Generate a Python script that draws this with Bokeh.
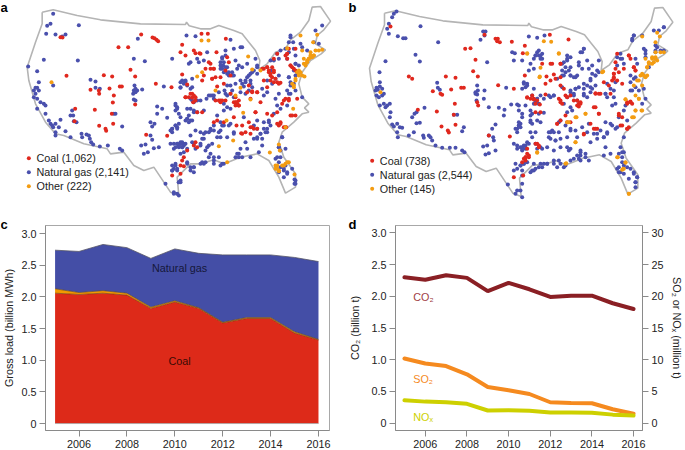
from bokeh.plotting import figure
from bokeh.layouts import column, row
from bokeh.models import Range1d, LinearAxis, FixedTicker, Label
from bokeh.embed import file_html
from bokeh.resources import INLINE
from bokeh.core.properties import value

FONT = "Liberation Sans"
COAL = "#e0281e"; GAS = "#4a50ad"; OTHER = "#f39c12"

border = [(125,35),(158,28),(230,45),(300,58),(420,70),(555,72),(558,65),(566,76),(600,85),(630,85),(655,75),(700,90),(725,100),(745,125),(765,150),(778,180),(775,207),(800,190),(825,155),(855,145),(870,118),(900,95),(925,60),(935,20),(960,18),(990,62),(970,88),(950,105),(945,130),(975,148),(962,160),(930,180),(905,215),(895,250),(905,290),(925,310),(912,322),(925,335),(905,340),(880,365),(845,395),(835,425),(850,470),(885,520),(885,560),(855,578),(835,530),(805,480),(770,460),(720,470),(690,482),(670,490),(640,478),(600,490),(570,490),(530,530),(535,585),(510,575),(490,545),(460,500),(430,510),(400,495),(370,455),(330,460),(320,445),(250,430),(190,405),(165,400),(135,365),(105,310),(85,240),(80,200),(105,125),(125,70),(125,35)]

a_coal = [(180,110),(186,111),(198,226),(224,325),(222,362),(270,268),(295,270),(296,280),(310,224),(335,228),(327,264),(358,258),(364,258),(283,328),(340,285),(337,306),(334,340),(338,370),(296,376),(315,385),(317,391),(354,140),(383,140),(390,208),(404,228),(404,312),(422,102),(456,111),(462,113),(468,118),(473,122),(466,250),(513,260),(437,403),(500,406),(545,133),(540,155),(545,222),(555,290),(570,280),(575,292),(585,300),(578,305),(580,150),(603,100),(622,100),(676,115),(600,160),(585,158),(597,158),(555,165),(630,190),(625,185),(640,205),(615,205),(610,225),(605,240),(635,235),(660,230),(645,300),(660,300),(650,258),(670,250),(680,170),(685,185),(648,155),(675,210),(690,225),(560,252),(605,335),(590,335),(690,280),(705,290),(708,305),(715,315),(700,305),(755,272),(770,275),(745,255),(750,295),(765,335),(708,375),(725,375),(745,365),(755,380),(770,385),(735,395),(722,398),(670,365),(650,360),(640,365),(700,350),(815,345),(830,335),(845,310),(855,295),(865,300),(890,295),(870,345),(885,345),(840,365),(850,380),(857,380),(835,375),(800,340),(790,205),(800,200),(805,215),(810,225),(820,215),(825,235),(835,250),(820,210),(830,160),(820,175),(855,165),(860,160),(885,145),(865,145),(870,195),(880,205),(790,240),(800,260),(780,305),(550,470),(560,450),(545,480),(540,495),(550,497),(515,525),(540,520),(585,425),(590,440),(580,435)]
a_coal_east = [(295,135),(300,145),(305,155),(310,170),(320,170),(330,172),(300,165),(275,130),(290,125),(305,125),(360,120),(365,125),(375,135),(350,85),(350,100),(65,205),(75,215),(70,210),(55,215),(45,215),(125,160),(135,155),(130,130),(120,130),(145,225),(150,230),(155,225),(165,225),(195,230),(200,235),(205,240),(195,240),(205,225),(245,200),(260,200),(255,260),(340,225),(355,220),(365,270),(320,295),(330,295),(345,305),(240,305),(250,310),(215,325),(240,325),(230,200)]

a_gas = [(158,40),(150,70),(140,76),(137,100),(165,102),(185,108),(195,102),(235,74),(130,178),(232,180),(110,212),(83,198),(115,245),(105,262),(110,262),(115,270),(100,270),(105,280),(100,290),(110,295),(120,305),(130,310),(135,315),(110,325),(135,340),(145,360),(150,370),(155,375),(165,370),(180,358),(165,395),(165,405),(158,380),(175,380),(195,392),(210,410),(243,400),(245,410),(258,402),(265,405),(268,415),(272,425),(278,432),(298,438),(322,435),(358,445),(365,450),(158,255),(270,238),(285,243),(285,262),(298,265),(215,330),(210,345),(218,345),(220,362),(228,365),(340,340),(345,340),(365,378),(400,175),(433,182),(412,115),(402,255),(425,267),(400,270),(405,275),(398,280),(410,270),(405,265),(400,297),(405,300),(490,258),(470,318),(485,325),(470,340),(500,352),(525,310),(530,320),(525,330),(540,350),(450,365),(462,370),(455,378),(450,405),(455,418),(435,432),(422,435),(430,460),(442,455),(460,443),(475,440),(515,175),(558,105),(585,107),(720,140),(690,118),(545,240),(555,243),(540,262),(560,255),(575,260),(575,235),(565,190),(570,185),(590,175),(595,185),(620,155),(610,180),(665,170),(660,185),(668,195),(660,205),(675,150),(680,200),(685,215),(695,225),(705,180),(715,195),(700,145),(725,140),(740,190),(765,175),(770,195),(755,215),(745,225),(735,245),(720,240),(750,240),(730,258),(705,250),(690,255),(672,270),(680,285),(655,275),(625,285),(635,285),(618,295),(640,295),(670,310),(680,320),(690,325),(670,330),(650,345),(580,330),(570,325),(565,345),(560,355),(570,360),(575,360),(535,370),(525,375),(530,380),(510,390),(515,385),(585,390),(600,395),(630,385),(625,395),(610,400),(660,390),(650,410),(680,410),(700,395),(610,415),(600,430),(620,440),(630,460),(640,470),(655,470),(665,490),(610,490),(600,490),(640,490),(580,500),(570,510),(580,515),(560,490),(525,490),(520,505),(530,510),(515,510),(535,545),(540,545),(495,550),(520,575),(535,585),(540,430),(545,425),(550,430),(530,430),(535,440),(545,440),(555,430),(510,430),(520,445),(540,460),(550,455),(575,425),(585,445),(715,470),(710,460),(720,445),(740,445),(750,470),(775,455),(785,435),(760,415),(770,410),(800,395),(790,385),(780,400),(810,375),(805,360),(790,365),(730,350),(770,360),(690,370),(665,375),(640,390),(830,315),(820,340),(840,325),(860,315),(870,280),(835,280),(825,295),(800,275),(785,265),(790,285),(800,240),(770,220),(810,180),(835,175),(860,175),(885,165),(885,190),(878,125),(870,105),(900,130),(905,140),(945,90),(965,75),(940,125),(955,130),(920,150),(880,210),(865,230),(870,255),(880,250),(885,270),(905,290),(845,410),(835,440),(825,475),(835,485),(840,500),(850,510),(850,530),(860,515),(885,540),(885,550),(875,505),(835,515),(600,300),(610,330),(560,325)]
a_gas_east = [(155,100),(160,110),(150,120),(165,125),(155,130),(160,140),(165,90),(175,150),(190,150),(170,145),(185,140),(200,130),(215,125),(230,155),(240,145),(250,135),(260,125),(225,165),(215,175),(240,175),(245,185),(235,195),(225,205),(210,200),(185,195),(170,180),(180,205),(190,215),(165,205),(130,210),(120,210),(30,170),(40,175),(30,185),(45,165),(60,190),(60,220),(65,225),(70,230),(80,225),(15,240),(20,250),(25,265),(50,280),(55,290),(45,285),(70,260),(80,260),(15,300),(20,310),(5,310),(5,320),(60,330),(95,340),(105,320),(120,315),(130,300),(145,320),(150,335),(125,355),(115,360),(105,375),(90,360),(30,350),(35,355),(25,360),(40,360),(20,355),(15,365),(35,365),(10,355),(50,370),(70,355),(150,290),(160,300),(175,300),(190,325),(225,350),(205,385),(195,395),(215,395),(250,300),(260,310),(270,325),(285,320),(295,290),(290,310),(275,340),(260,340),(345,70),(355,80),(370,70),(355,50),(360,35),(375,115),(385,120),(380,140),(375,150),(355,155),(360,170),(350,195),(355,205),(310,105),(320,85),(330,75),(315,160),(325,150),(305,175),(300,135),(5,420),(15,420),(20,430),(5,435),(50,410),(60,425),(70,425),(95,410),(105,410),(150,420),(160,415),(130,405),(115,395),(330,395),(320,395),(345,420),(340,430),(350,445),(372,462),(372,475),(325,365),(330,375),(335,335),(30,465),(25,470),(10,505),(20,505),(345,370)]

a_other = [(153,245),(603,120),(624,120),(743,168),(590,228),(605,215),(645,270),(780,210),(755,207),(720,262),(705,285),(750,297),(678,360),(728,337),(698,420),(655,437),(808,456),(835,432),(838,450),(680,485),(900,105),(950,103),(938,125),(905,150),(860,143),(878,325),(855,380),(880,260),(885,240),(895,225),(900,215),(910,190),(920,185),(925,175),(930,170),(940,165),(945,150),(955,150),(965,148),(930,155),(890,215),(912,228),(825,505),(835,510),(845,495),(855,490),(865,485),(882,522),(830,495),(895,210),(915,195)]
a_other_east = [(400,100),(405,115),(415,100),(425,95),(430,90),(410,105),(420,90),(365,175),(375,160),(385,145),(395,150),(370,180),(320,430),(325,437),(340,420),(350,410),(315,420)]

b_coal = [(150,78),(205,228),(215,235),(277,272),(300,280),(305,283),(332,267),(316,228),(345,232),(362,262),(370,262),(289,333),(343,310),(340,343),(345,373),(303,378),(322,390),(325,396),(374,145),(390,143),(405,178),(398,212),(412,228),(410,305),(413,315),(232,328),(432,103),(465,115),(472,115),(470,122),(478,125),(514,124),(473,254),(520,265),(445,405),(508,408),(553,136),(547,158),(553,225),(628,103),(684,117),(560,292),(575,285),(580,297),(585,310),(598,312),(585,335),(600,335),(615,282),(618,228),(615,250),(630,240),(640,222),(660,190),(605,190),(635,190),(660,255),(670,265),(680,290),(655,295),(660,305),(710,300),(720,310),(715,318),(765,278),(775,280),(760,320),(775,340),(835,345),(860,305),(870,305),(845,350),(865,380),(860,385),(840,375),(880,200),(885,210),(820,220),(820,235),(835,215),(865,165),(830,160),(825,185),(790,245),(805,255),(650,370),(680,365),(730,402),(760,385),(770,385),(555,470),(565,465),(550,475),(560,445),(590,430),(595,440),(520,530),(548,525),(700,300),(675,345)]
b_coal_east = [(295,145),(295,155),(290,165),(305,165),(320,175),(300,130),(325,130),(355,125),(360,135),(340,90),(345,100),(120,160),(135,155),(105,115),(135,115),(45,220),(55,220),(65,225),(35,215),(150,210),(165,210),(135,225),(140,235),(190,235),(195,230),(185,240),(240,205),(255,205),(285,205),(335,235),(345,228),(350,235),(310,265),(320,300),(335,310),(240,245),(250,265),(225,295),(240,310),(205,325),(30,395),(40,395),(35,385),(60,355),(70,360),(20,410),(30,405),(125,295),(135,285),(165,290)]

b_gas = [(160,40),(168,33),(155,50),(145,70),(140,85),(145,100),(172,107),(188,113),(195,113),(240,77),(293,125),(135,182),(225,163),(238,183),(117,215),(118,245),(108,262),(112,268),(105,270),(118,258),(125,265),(108,285),(115,290),(125,285),(130,280),(118,315),(130,310),(140,315),(148,310),(135,320),(150,335),(148,350),(155,372),(160,378),(170,370),(178,380),(185,382),(170,395),(172,410),(205,405),(220,395),(248,405),(250,412),(265,405),(270,410),(275,420),(285,435),(305,442),(328,442),(345,442),(365,450),(372,455),(252,322),(215,350),(222,340),(228,335),(228,368),(238,367),(290,247),(292,262),(298,268),(340,343),(350,343),(370,380),(365,392),(440,185),(428,93),(435,93),(432,105),(420,118),(410,255),(432,270),(405,275),(412,270),(410,282),(405,280),(430,295),(408,300),(445,320),(475,322),(497,262),(492,328),(512,312),(530,312),(535,330),(545,350),(490,345),(535,365),(465,372),(455,385),(445,405),(458,410),(460,420),(440,435),(428,438),(435,462),(445,458),(465,450),(515,155),(523,158),(520,180),(565,108),(590,112),(612,105),(730,145),(725,155),(680,165),(545,180),(570,190),(580,175),(585,165),(595,150),(600,165),(605,175),(580,205),(565,210),(550,250),(545,265),(580,265),(560,255),(600,285),(590,295),(585,305),(595,310),(555,315),(570,330),(575,340),(570,360),(590,360),(600,365),(535,375),(540,380),(525,385),(530,395),(520,430),(530,445),(545,440),(555,435),(565,430),(545,450),(575,410),(585,395),(630,395),(640,395),(625,410),(655,395),(645,420),(660,415),(680,410),(690,385),(705,390),(725,380),(745,370),(740,395),(760,400),(780,390),(770,415),(790,410),(800,395),(815,375),(830,380),(795,365),(605,445),(620,440),(640,450),(660,440),(680,440),(690,445),(720,450),(735,460),(710,465),(700,475),(720,480),(745,480),(790,465),(795,440),(640,490),(620,490),(600,490),(580,490),(660,490),(670,500),(650,500),(605,500),(580,510),(570,515),(550,490),(540,495),(525,490),(520,510),(545,510),(545,550),(502,552),(525,580),(545,590),(560,485),(665,190),(665,210),(680,180),(690,170),(690,200),(690,225),(705,230),(650,235),(665,225),(715,195),(740,180),(755,195),(775,180),(770,210),(765,225),(750,235),(730,250),(715,260),(705,265),(690,275),(730,280),(750,260),(740,290),(700,285),(690,320),(670,310),(680,335),(695,330),(660,360),(625,285),(640,285),(610,295),(795,280),(810,265),(820,290),(800,250),(830,195),(840,175),(850,190),(885,175),(890,190),(875,120),(880,105),(905,105),(915,150),(915,170),(945,135),(970,80),(945,155),(925,200),(880,235),(885,260),(875,270),(895,270),(910,265),(915,295),(905,310),(850,330),(825,310),(860,360),(850,410),(840,440),(835,460),(845,455),(845,485),(835,500),(840,515),(850,520),(860,500),(880,515),(890,530),(885,545),(885,560),(865,535)]
b_gas_east = [(65,80),(70,90),(75,100),(80,85),(60,90),(145,110),(155,100),(150,125),(160,135),(150,140),(145,150),(165,150),(175,155),(185,150),(205,70),(195,80),(190,110),(200,130),(220,130),(240,150),(250,140),(230,145),(225,165),(215,180),(205,190),(240,180),(230,190),(225,200),(205,210),(180,190),(175,205),(185,225),(165,195),(155,215),(140,185),(115,210),(105,215),(25,170),(35,175),(30,185),(50,210),(60,225),(70,235),(55,235),(65,220),(10,240),(20,265),(45,270),(45,290),(50,295),(10,300),(15,295),(70,265),(85,262),(5,310),(45,320),(100,320),(110,315),(130,290),(150,300),(165,315),(185,335),(120,345),(105,340),(15,365),(25,360),(35,350),(20,370),(5,360),(30,370),(60,355),(75,365),(65,370),(160,375),(195,380),(195,390),(190,400),(210,395),(225,350),(245,325),(265,335),(275,325),(300,310),(285,295),(310,275),(330,240),(290,240),(270,205),(275,215),(295,195),(300,170),(305,95),(315,85),(320,100),(345,150),(360,155),(345,170),(345,195),(350,40),(355,30),(385,70),(390,85),(420,75),(425,65),(435,75),(445,75),(415,15),(430,15),(445,5),(285,385),(325,380),(320,395),(305,430),(310,440),(325,420),(345,430),(355,445),(365,455),(360,470),(15,420),(5,430),(25,415),(50,435),(60,430),(70,425),(85,415),(95,415),(115,405),(130,405),(150,420),(165,405),(20,450),(5,495),(15,495)]

b_other = [(610,122),(632,124),(560,158),(655,158),(600,202),(598,228),(788,213),(905,108),(950,97),(958,108),(945,125),(120,275),(855,296),(885,330),(903,330),(880,350),(735,340),(708,350),(685,365),(705,425),(590,455),(675,490),(832,470),(855,487),(848,505),(865,580),(915,175),(925,185),(935,175),(945,170),(935,190),(950,180),(960,155),(970,155),(945,155),(920,200),(905,220),(895,240),(915,230),(885,285),(895,295),(905,255)]
b_other_east = [(410,95),(420,100),(415,110),(400,115),(395,125),(375,150),(385,150),(395,150),(365,165),(355,180),(330,222),(370,220),(360,255),(380,255),(350,275),(210,265),(180,275),(155,290),(180,350),(65,382),(305,395),(330,410),(325,430),(320,433),(340,505),(152,413),(260,140),(130,85),(72,155),(35,85)]

a_legend = ["Coal (1,062)", "Natural gas (2,141)", "Other (222)"]
b_legend = ["Coal (738)", "Natural gas (2,544)", "Other (145)"]

years = [2005,2006,2007,2008,2009,2010,2011,2012,2013,2014,2015,2016]
load_coal  = [2.06,2.04,2.06,2.03,1.82,1.92,1.82,1.59,1.66,1.66,1.43,1.32]
load_other = [2.13,2.07,2.10,2.06,1.84,1.94,1.83,1.60,1.675,1.675,1.45,1.33]
load_total = [2.74,2.72,2.83,2.78,2.61,2.76,2.69,2.665,2.665,2.665,2.625,2.56]
co2 = [2.30,2.26,2.33,2.29,2.08,2.21,2.11,1.99,2.01,2.01,1.89,1.80]
so2 = [10.2,9.4,9.0,7.7,5.7,5.2,4.6,3.3,3.2,3.15,2.2,1.5]
nox = [3.6,3.4,3.3,3.05,2.0,2.05,1.95,1.7,1.7,1.65,1.35,1.2]
year_ticks = [2006,2008,2010,2012,2014,2016]
left_ticks = [0,0.5,1,1.5,2,2.5,3]
left_labels = ["0","0.5","1.0","1.5","2.0","2.5","3.0"]
right_ticks = [0,5,10,15,20,25,30]

def xs(pts): return [q[0] for q in pts]
def ys(pts): return [q[1] for q in pts]
def merged(base, east, ox):
    return base + [(ox + q[0], 75 + q[1]) for q in east]

def panel_letter(p, txt, x, y):
    p.add_layout(Label(x=x, y=y, x_units="screen", y_units="screen", text=txt, text_font=FONT,
                       text_font_style="bold", text_font_size="13px", text_color="black"))

def make_map(letter, lower_letter, coal, gas, other, legend, w, x0, dx, dy, lx, ly, letter_x):
    h = 232
    p = figure(width=w, height=h, output_backend="svg", toolbar_location=None, title=None,
               x_range=Range1d(x0, x0 + 3*w), y_range=Range1d(3*h, 0), min_border=0,
               x_axis_type=None, y_axis_type=None)
    p.grid.visible = False
    p.outline_line_color = None
    p.background_fill_color = None
    p.line([q[0]+dx for q in border], [q[1]+dy for q in border], line_color="#b4b4b4", line_width=1.6)
    p.scatter(xs(gas), ys(gas), size=4, color=GAS, line_color=None)
    p.scatter(xs(coal), ys(coal), size=4, color=COAL, line_color=None)
    p.scatter(xs(other), ys(other), size=4, color=OTHER, line_color=None)
    for i, (t, c) in enumerate(zip(legend, [COAL, GAS, OTHER])):
        yy = ly + i*42
        p.scatter([lx], [yy], size=4, color=c, line_color=None)
        p.text([lx+23], [yy], text=[t], text_font=value(FONT), text_font_size="10.8px",
               text_baseline="middle", text_color="#222222")
    panel_letter(p, letter, letter_x, h-14)
    panel_letter(p, lower_letter, letter_x, 1)
    return p

def style_axes(p, label_gap):
    for ax in p.xaxis + p.yaxis:
        ax.axis_line_color = "#8a8a8a"
        ax.major_tick_line_color = "#8a8a8a"
        ax.minor_tick_line_color = None
        ax.major_tick_out = 6
        ax.major_tick_in = 0
        ax.major_label_text_font = FONT
        ax.major_label_text_font_size = "10.8px"
        ax.major_label_text_color = "#222222"
        ax.axis_label_text_font = FONT
        ax.axis_label_text_font_size = "10.8px"
        ax.axis_label_text_font_style = "normal"
        ax.axis_label_text_color = "#222222"
        ax.major_label_standoff = 3
        ax.axis_label_standoff = label_gap
    p.grid.visible = False
    p.outline_line_color = "#a8a8a8"
    p.border_fill_color = None

map_a = make_map("a", "c", merged(a_coal, a_coal_east, 510), merged(a_gas, a_gas_east, 510),
                 merged(a_other, a_other_east, 510), a_legend, 345, 0, 0, 0, 85, 473, 0)
map_b = make_map("b", "d", merged(b_coal, b_coal_east, 525), merged(b_gas, b_gas_east, 525),
                 merged(b_other, b_other_east, 525), b_legend, 340, 15, 7, 3, 95, 481, 3)

# panel c
pc = figure(width=345, height=235, output_backend="svg", toolbar_location=None, title=None,
            x_range=Range1d(2004.6, 2016.46), y_range=Range1d(-0.11, 3.13),
            min_border_left=45, min_border_right=16, min_border_top=10, min_border_bottom=19)
pc.varea(years, [0]*12, load_coal, color="#dd2a19")
pc.varea(years, load_coal, load_other, color="#f29a00")
pc.varea(years, load_other, load_total, color="#444ea6")
pc.line(years, load_total, line_color="#555566", line_width=0.8)
pc.line(years, load_other, line_color="#6b4a20", line_width=0.7)
pc.line(years, load_coal, line_color="#7a3a10", line_width=0.7)
pc.line(years, [0]*12, line_color="#a8a8a8", line_width=0.8)
pc.text([2010.2], [2.46], text=["Natural gas"], text_font=value(FONT), text_font_size="10.8px",
        text_align="center", text_baseline="middle", text_color="#15183a")
pc.text([2010.2], [0.99], text=["Coal"], text_font=value(FONT), text_font_size="10.8px",
        text_align="center", text_baseline="middle", text_color="#3a0a05")
pc.xaxis.ticker = FixedTicker(ticks=year_ticks)
pc.yaxis.ticker = FixedTicker(ticks=left_ticks)
pc.yaxis.major_label_overrides = dict(zip(left_ticks, left_labels))
pc.yaxis.axis_label = "Gross load (billion MWh)"
style_axes(pc, 3)

# panel d
pd_ = figure(width=340, height=235, output_backend="svg", toolbar_location=None, title=None,
             x_range=Range1d(2004.57, 2016.43), y_range=Range1d(-0.115, 3.115),
             min_border_left=50, min_border_right=42, min_border_top=9, min_border_bottom=18)
pd_.extra_y_ranges = {"right": Range1d(-1.15, 31.15)}
pd_.line(years, co2, line_color="#8a1f24", line_width=4, line_cap="round")
pd_.line(years, so2, y_range_name="right", line_color="#f58a1f", line_width=4, line_cap="round")
pd_.line(years, nox, y_range_name="right", line_color="#cdd000", line_width=4, line_cap="round")
right_ax = LinearAxis(y_range_name="right", ticker=FixedTicker(ticks=right_ticks),
                      axis_label="SO₂ or NOₓ (million t)")
pd_.add_layout(right_ax, "right")
pd_.text([2005.42], [1.995], text=["CO₂"], text_font=value(FONT), text_font_size="10.8px",
         text_baseline="middle", text_color="#a04045")
pd_.text([2005.42], [0.70], text=["SO₂"], text_font=value(FONT), text_font_size="10.8px",
         text_baseline="middle", text_color="#f58a1f")
pd_.text([2005.42], [0.10], text=["NOₓ"], text_font=value(FONT), text_font_size="10.8px",
         text_baseline="middle", text_color="#cdd000")
pd_.xaxis.ticker = FixedTicker(ticks=year_ticks)
pd_.yaxis[0].ticker = FixedTicker(ticks=left_ticks)
pd_.yaxis[0].major_label_overrides = dict(zip(left_ticks, left_labels))
pd_.yaxis[0].axis_label = "CO₂ (billion t)"
style_axes(pd_, 7)
right_ax.axis_label_standoff = 4

top_row = row(map_a, map_b, spacing=0)
bottom_row = row(pc, pd_, spacing=0, margin=(-17, 0, 0, 0))
page = column(top_row, bottom_row, spacing=0)
open("out.html", "w").write(file_html(page, INLINE))
